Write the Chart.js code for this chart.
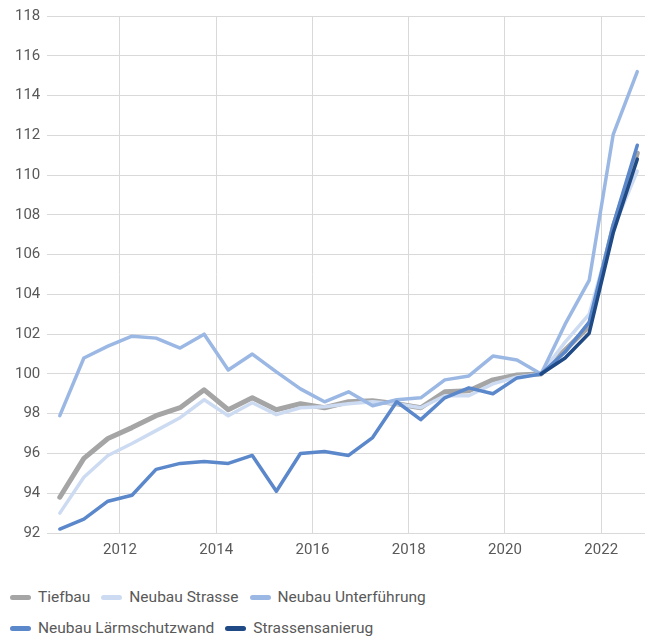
<!DOCTYPE html>
<html>
<head>
<meta charset="utf-8">
<script src="https://cdn.jsdelivr.net/npm/chart.js@4"></script>
<style>
  body { margin: 0; background: #fff; font-family: Roboto, sans-serif; }
  #wrap { position: relative; width: 645px; height: 637px; }
  #chartBox { position: absolute; left: 0; top: 0; width: 645px; height: 570px; }
  #legend {
    position: absolute; left: 10px; top: 587px; width: 470px;
    display: flex; flex-wrap: wrap; row-gap: 11px; column-gap: 11px;
    font-size: 15.5px; color: #595959; line-height: 20px;
  }
  .item { display: flex; align-items: center; white-space: nowrap; }
  .mark { display: inline-block; width: 21px; height: 5px; border-radius: 3px; margin-right: 7px; }
</style>
</head>
<body>
<div id="wrap">
  <div id="chartBox"><canvas id="chart"></canvas></div>
  <div id="legend"></div>
</div>
<script>
// half-year observations (Apr / Oct)
const periods = [2010.75, 2011.25, 2011.75, 2012.25, 2012.75, 2013.25, 2013.75, 2014.25, 2014.75,
    2015.25, 2015.75, 2016.25, 2016.75, 2017.25, 2017.75, 2018.25, 2018.75, 2019.25, 2019.75,
    2020.25, 2020.75, 2021.25, 2021.75, 2022.25, 2022.75];
const xTicks = [2012, 2014, 2016, 2018, 2020, 2022];

const tiefbau = [93.8, 95.75, 96.75, 97.3, 97.9, 98.3, 99.2, 98.2, 98.8, 98.2, 98.5, 98.3, 98.6,
    98.65, 98.5, 98.3, 99.1, 99.15, 99.7, 99.95, 100.0, 101.2, 102.4, 107.4, 111.1];
const neubauStrasse = [93.0, 94.8, 95.9, 96.5, 97.15, 97.8, 98.7, 97.9, 98.55, 97.95, 98.3, 98.35, 98.5,
    98.6, 98.5, 98.3, 98.9, 98.9, 99.5, 99.85, 100.0, 101.6, 103.0, 107.3, 110.2];
const neubauUnterfuehrung = [97.9, 100.8, 101.4, 101.9, 101.8, 101.3, 102.0, 100.2, 101.0, 100.1, 99.25, 98.6, 99.1,
    98.4, 98.7, 98.8, 99.7, 99.9, 100.9, 100.7, 100.0, 102.5, 104.7, 112.05, 115.2];
const neubauLaerm = [92.2, 92.7, 93.6, 93.9, 95.2, 95.5, 95.6, 95.5, 95.9, 94.1, 96.0, 96.1, 95.9,
    96.8, 98.6, 97.7, 98.8, 99.3, 99.0, 99.8, 100.0, 101.1, 102.6, 107.5, 111.5];
const strassensanierung = [null, null, null, null, null, null, null, null, null, null, null, null, null,
    null, null, null, null, null, null, null, 100.0, 100.8, 102.05, 107.1, 110.8];

const seriesNames = ['Tiefbau', 'Neubau Strasse', 'Neubau Unterführung', 'Neubau Lärmschutzwand', 'Strassensanierug'];
const seriesValues = [tiefbau, neubauStrasse, neubauUnterfuehrung, neubauLaerm, strassensanierung];
const seriesColors = ['#a5a5a5', '#cddbf2', '#9bb8e4', '#5b87cb', '#1f4a85'];
const seriesWidths = [5, 3.5, 3.5, 3.5, 3.5];

const yTicks = { min: 92, max: 118, step: 2 };

const datasets = seriesNames.map((name, i) => ({
    label: name,
    data: periods.map((p, j) => ({ x: p, y: seriesValues[i][j] })),
    borderColor: seriesColors[i],
    backgroundColor: seriesColors[i],
    borderWidth: seriesWidths[i],
    borderCapStyle: 'round',
    borderJoinStyle: 'round',
    pointRadius: 0,
    tension: 0,
    order: seriesNames.length - i   // later series drawn on top
}));

const ctx = document.getElementById('chart').getContext('2d');
new Chart(ctx, {
    type: 'line',
    data: { datasets: datasets },
    options: {
        responsive: true,
        maintainAspectRatio: false,
        animation: false,
        layout: { padding: { left: 8, top: 8, right: 0, bottom: 3 } },
        plugins: {
            legend: { display: false },
            tooltip: { enabled: false }
        },
        scales: {
            x: {
                type: 'linear',
                min: 2010.49,
                max: 2022.91,
                afterBuildTicks: axis => {
                    axis.ticks = xTicks.map(v => ({ value: v }));
                },
                ticks: {
                    autoSkip: false,
                    maxRotation: 0,
                    padding: 8,
                    color: '#595959',
                    font: { family: 'Roboto', size: 15 },
                    callback: v => String(v)
                },
                grid: { color: '#d9d9d9', lineWidth: 1, drawTicks: false },
                border: { display: false }
            },
            y: {
                min: yTicks.min,
                max: yTicks.max,
                ticks: {
                    stepSize: yTicks.step,
                    padding: 7,
                    color: '#595959',
                    font: { family: 'Roboto', size: 15 }
                },
                grid: { color: '#d9d9d9', lineWidth: 1, drawTicks: false },
                border: { display: false }
            }
        }
    }
});

// legend below the chart, Excel style
const legendBox = document.getElementById('legend');
seriesNames.forEach((name, i) => {
    legendBox.innerHTML += `<div class="item"><span class="mark" style="background:${seriesColors[i]}"></span>${name}</div>`;
});
</script>
</body>
</html>
